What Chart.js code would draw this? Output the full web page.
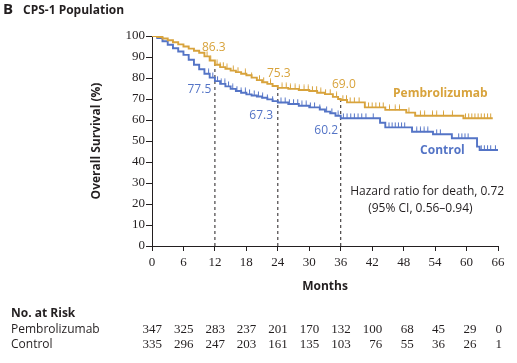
<!DOCTYPE html>
<html lang="en">
<head>
  <meta charset="UTF-8" />
  <title>CPS-1 Population - Overall Survival</title>
  <script src="https://cdn.jsdelivr.net/npm/chart.js"></script>
  <style>
    html, body { margin: 0; padding: 0; background: #fff; }
    #wrap { position: relative; width: 517px; height: 363px; }
  </style>
</head>
<body>
  <div id="wrap"><canvas id="km" width="517" height="363"></canvas></div>
  <script>
    // Kaplan-Meier curves (months, % alive)
    const pembroMonths = [0, 1, 2, 3, 4, 5, 6, 7, 8, 9, 10, 11, 12, 13, 14, 15, 16, 17, 18, 19, 20, 21, 22, 23, 24, 26, 28, 30, 31.5, 33, 34.5, 35.5, 36, 37.2, 40.6, 44.5, 48.5, 50.2, 59.4, 65];
    const pembroSurv   = [100, 99.5, 98.8, 98, 97, 96, 95, 94, 93, 92, 90.3, 88.3, 86.3, 85.2, 84.4, 83.5, 82.8, 82, 81.3, 80.2, 79, 78, 77.2, 76.2, 75.3, 74.8, 74.3, 73.8, 73, 72.3, 71, 70, 69.5, 68.4, 66, 64.8, 63.5, 62, 60.8, 60.8];
    const controlMonths = [0, 1, 2, 3, 4, 5, 6, 7, 8, 9, 10, 11, 12, 13, 14, 15, 16, 17, 18, 19, 20, 21, 22, 23, 24, 26, 28, 30, 32, 33, 34, 35, 36, 43.5, 44.5, 49.6, 53.6, 57.2, 62, 62.5, 66];
    const controlSurv   = [100, 99, 97.5, 95.8, 94.2, 92.6, 91, 88.7, 86.3, 84.2, 82, 80.2, 78.5, 77.2, 76, 74.8, 73.8, 73, 72.2, 71.7, 71.2, 70.6, 69.8, 69, 68.3, 67.6, 66.8, 66, 65, 64, 63.2, 62, 60.8, 58.7, 56.5, 54.4, 53.2, 51.3, 47.3, 45.7, 45.7];

    // censoring marks (months)
    const pembroCensor = [0.3, 10.5, 11.2, 12.4, 13, 13.6, 14.3, 15.5, 16.4, 17.8, 19, 20.5, 21.3, 22.6, 24.8, 25.6, 26.4, 27.3, 28.1, 29, 29.8, 30.6, 31.4, 32.2, 33.1, 34, 35.2, 36.4, 37.1, 37.8, 38.6, 39.5, 41.3, 42, 42.7, 43.4, 44.1, 45.3, 46.4, 47.2, 49, 51.2, 52, 53.5, 54.3, 55.6, 57.3, 59.8, 60.4, 61, 61.6, 62.2, 62.8, 63.4, 64, 64.6];
    const controlCensor = [10.8, 11.6, 12.5, 13.2, 13.9, 14.6, 15.4, 16.2, 17, 17.8, 18.6, 19.5, 20.3, 21.1, 22, 23, 24.6, 25.4, 26.2, 27, 27.8, 28.6, 29.4, 30.2, 31, 32, 33.3, 34.3, 35.5, 36.5, 37.2, 37.9, 38.6, 39.3, 40, 40.8, 42.2, 45.2, 45.8, 46.4, 47, 47.6, 48.2, 50.5, 51.2, 51.9, 52.6, 54.3, 55, 58.5, 59.1, 59.7, 60.3, 62.8, 63.4, 64, 64.6, 65.5];

    // landmark estimates
    const landmarkMonths = [12, 24, 36];
    const pembroLandmark = [86.3, 75.3, 69.0];
    const controlLandmark = [77.5, 67.3, 60.2];

    // number at risk
    const riskMonths = [0, 6, 12, 18, 24, 30, 36, 42, 48, 54, 60, 66];
    const pembroRisk = [347, 325, 283, 237, 201, 170, 132, 100, 68, 45, 29, 0];
    const controlRisk = [335, 296, 247, 203, 161, 135, 103, 76, 55, 36, 26, 1];

    const GOLD = '#D8A33C';
    const BLUE = '#5474C6';
    const INK = '#231f20';
    const SANS = '"Open Sans", "Noto Sans", sans-serif';
    const SERIF = '"Liberation Serif", serif';

    function stepAt(ms, ss, t) {
      let v = ss[0];
      for (let i = 0; i < ms.length; i++) if (ms[i] <= t) v = ss[i];
      return v;
    }

    function tickMark(color) {
      const c = document.createElement('canvas');
      c.width = 3; c.height = 11;
      const g = c.getContext('2d');
      g.strokeStyle = color; g.lineWidth = 1;
      g.beginPath(); g.moveTo(1.5, 0.5); g.lineTo(1.5, 5.5); g.stroke();
      return c;
    }

    const curve = (ms, ss, color) => ({
      data: ms.map((m, i) => ({ x: m, y: ss[i] })),
      borderColor: color, borderWidth: 1.9, pointRadius: 0,
      stepped: true, fill: false, order: 1
    });
    const censor = (cs, ms, ss, color) => ({
      type: 'scatter',
      data: cs.map(t => ({ x: t, y: stepAt(ms, ss, t) })),
      pointStyle: tickMark(color), pointRadius: 5, order: 2
    });
    const dashes = landmarkMonths.map((m, i) => ({
      data: [{ x: m, y: 0 }, { x: m, y: pembroLandmark[i] }],
      borderColor: INK, borderWidth: 1, borderDash: [3, 3], pointRadius: 0, order: 3
    }));

    // text placed in data units
    const notes = [
      { t: '86.3', x: 11.8, y: 94.5, c: GOLD, a: 'center' },
      { t: '75.3', x: 24.2, y: 82, c: GOLD, a: 'center' },
      { t: '69.0', x: 36.6, y: 77, c: GOLD, a: 'center' },
      { t: '77.5', x: 11.3, y: 74.3, c: BLUE, a: 'right' },
      { t: '67.3', x: 23.1, y: 62.3, c: BLUE, a: 'right' },
      { t: '60.2', x: 35.5, y: 55.2, c: BLUE, a: 'right' }
    ];

    const textPlugin = {
      id: 'texts',
      afterDraw(chart) {
        const { ctx, scales: { x, y } } = chart;
        ctx.save();
        ctx.textBaseline = 'middle';
        // header
        ctx.fillStyle = INK;
        ctx.textAlign = 'left';
        ctx.font = 'bold 15px ' + SANS;
        ctx.fillText('B', 3, 10);
        ctx.font = 'bold 12px ' + SANS;
        ctx.fillText('CPS-1 Population', 23, 11);
        // axis titles
        ctx.textAlign = 'center';
        ctx.fillText('Months', (x.left + x.right) / 2, 287);
        ctx.save();
        ctx.translate(97, (y.top + y.bottom) / 2);
        ctx.rotate(-Math.PI / 2);
        ctx.fillText('Overall Survival (%)', 0, 0);
        ctx.restore();
        // landmark values
        ctx.font = '12px ' + SANS;
        notes.forEach(n => {
          ctx.fillStyle = n.c; ctx.textAlign = n.a;
          ctx.fillText(n.t, x.getPixelForValue(n.x), y.getPixelForValue(n.y));
        });
        // series names
        ctx.font = 'bold 12px ' + SANS;
        ctx.textAlign = 'center';
        ctx.fillStyle = GOLD;
        ctx.fillText('Pembrolizumab', x.getPixelForValue(55), y.getPixelForValue(72.5));
        ctx.fillStyle = BLUE;
        ctx.fillText('Control', x.getPixelForValue(55.4), y.getPixelForValue(45.3));
        // hazard ratio
        ctx.fillStyle = INK;
        ctx.font = '12px ' + SANS;
        ctx.fillText('Hazard ratio for death, 0.72', x.getPixelForValue(52.5), y.getPixelForValue(25.7));
        ctx.fillText('(95% CI, 0.56\u20130.94)', x.getPixelForValue(51.2), y.getPixelForValue(17.6));
        // number at risk
        ctx.textAlign = 'left';
        ctx.font = 'bold 12px ' + SANS;
        ctx.fillText('No. at Risk', 11, 314);
        ctx.font = '12px ' + SANS;
        ctx.fillText('Pembrolizumab', 11, 330);
        ctx.fillText('Control', 11, 345);
        ctx.font = '13px ' + SERIF;
        ctx.textAlign = 'right';
        riskMonths.forEach((m, i) => {
          const px = x.getPixelForValue(m) + (i === riskMonths.length - 1 ? 4 : 10);
          ctx.fillText(String(pembroRisk[i]), px, 330);
          ctx.fillText(String(controlRisk[i]), px, 345);
        });
        ctx.restore();
      }
    };

    new Chart(document.getElementById('km'), {
      type: 'line',
      data: {
        datasets: [
          curve(pembroMonths, pembroSurv, GOLD),
          curve(controlMonths, controlSurv, BLUE),
          censor(pembroCensor, pembroMonths, pembroSurv, GOLD),
          censor(controlCensor, controlMonths, controlSurv, BLUE),
          ...dashes
        ]
      },
      options: {
        responsive: false,
        animation: false,
        layout: { padding: { left: 0, right: 19, top: 36, bottom: 0 } },
        plugins: { legend: { display: false }, tooltip: { enabled: false } },
        scales: {
          x: {
            type: 'linear', min: 0, max: 66,
            ticks: { stepSize: 6, color: INK, font: { family: SERIF, size: 13 }, padding: 4, maxRotation: 0 },
            grid: { drawOnChartArea: false, drawTicks: true, tickLength: 5, color: INK },
            border: { color: INK, width: 1 },
            afterFit: s => { s.height = 117; }
          },
          y: {
            min: 0, max: 100,
            ticks: { stepSize: 10, color: INK, font: { family: SERIF, size: 13 }, padding: 1 },
            grid: { drawOnChartArea: false, drawTicks: true, tickLength: 6, color: INK },
            border: { color: INK, width: 1 },
            afterFit: s => { s.width = 152; }
          }
        }
      },
      plugins: [textPlugin]
    });
  </script>
</body>
</html>
